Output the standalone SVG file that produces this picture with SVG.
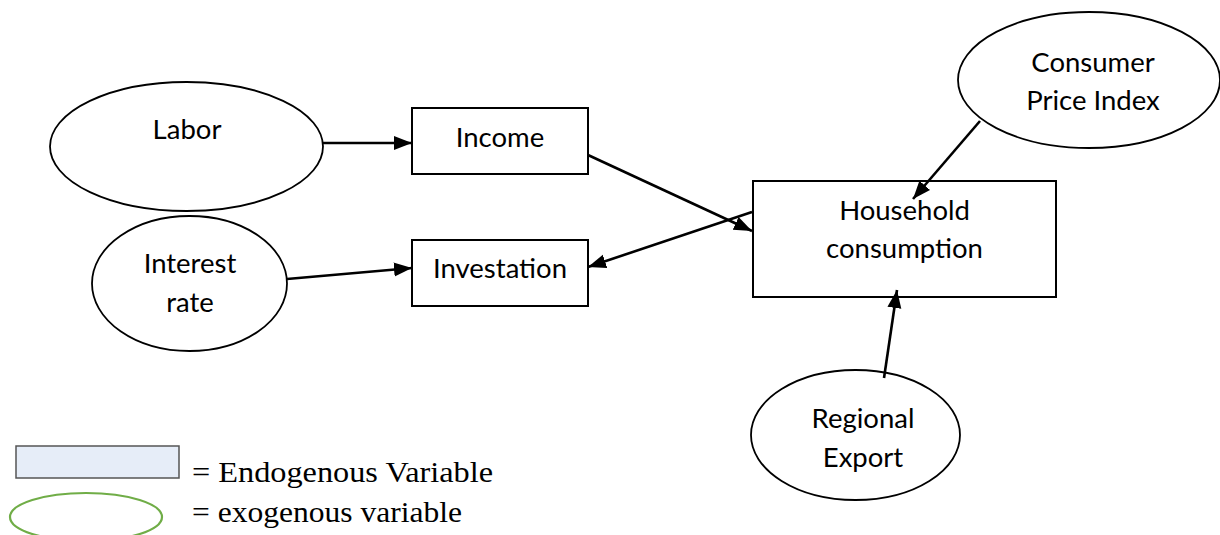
<svg xmlns="http://www.w3.org/2000/svg" width="1220" height="535" viewBox="0 0 1220 535">
<style>
.node{fill:#fff;stroke:#000;stroke-width:1.8}
.box{fill:#fff;stroke:#000;stroke-width:2}
.lbl{font-family:Lato,"Open Sans",sans-serif;font-size:27.5px;fill:#000;text-anchor:middle}
.leg{font-family:"Liberation Serif","Times New Roman",serif;font-size:29px;fill:#000}
.edge{stroke:#000;stroke-width:2.6;fill:none;marker-end:url(#ah)}
</style>
<defs>
<marker id="ah" markerUnits="userSpaceOnUse" markerWidth="20" markerHeight="16" viewBox="0 0 20 16" refX="18" refY="8" orient="auto">
<path d="M0,1 L18,8 L0,15 Z" fill="#000"/>
</marker>
</defs>
<rect width="1220" height="535" fill="#fff"/>
<g id="labor"><ellipse class="node" cx="186.5" cy="146.5" rx="136.5" ry="64.5"/><text class="lbl" x="187" y="139">Labor</text></g>
<g id="interest"><ellipse class="node" cx="189.5" cy="283.5" rx="97.5" ry="67.5"/><text class="lbl" x="190" y="273">Interest</text><text class="lbl" x="190" y="312">rate</text></g>
<g id="income"><rect class="box" x="412" y="108" width="176" height="66"/><text class="lbl" x="500" y="147">Income</text></g>
<g id="investation"><rect class="box" x="412" y="240" width="176" height="66"/><text class="lbl" x="500" y="278">Investation</text></g>
<g id="household"><rect class="box" x="753" y="181" width="303" height="116"/><text class="lbl" x="904.5" y="220">Household</text><text class="lbl" x="904.5" y="258">consumption</text></g>
<g id="cpi"><ellipse class="node" cx="1089" cy="80" rx="131" ry="68"/><text class="lbl" x="1093" y="72">Consumer</text><text class="lbl" x="1093" y="110">Price Index</text></g>
<g id="export"><ellipse class="node" cx="855.5" cy="435" rx="104.5" ry="65"/><text class="lbl" x="863" y="428">Regional</text><text class="lbl" x="863" y="467">Export</text></g>
<g id="connectors">
<line class="edge" x1="323" y1="143" x2="412" y2="143"/>
<line class="edge" x1="287" y1="279" x2="412" y2="268"/>
<line class="edge" x1="588" y1="155" x2="752" y2="231"/>
<line class="edge" x1="752" y1="212" x2="588" y2="267"/>
<line class="edge" x1="980" y1="121" x2="913" y2="199"/>
<line class="edge" x1="884" y1="378" x2="897" y2="290"/>
</g>
<g id="legend">
<rect x="16" y="446" width="163" height="32" fill="#e6edf8" stroke="#555" stroke-width="1.5"/>
<text class="leg" x="192" y="482" textLength="301" lengthAdjust="spacingAndGlyphs">= Endogenous Variable</text>
<ellipse cx="86" cy="517" rx="76" ry="24" fill="none" stroke="#70ad47" stroke-width="2.2"/>
<text class="leg" x="192" y="522" textLength="270" lengthAdjust="spacingAndGlyphs">= exogenous variable</text>
</g>
</svg>
